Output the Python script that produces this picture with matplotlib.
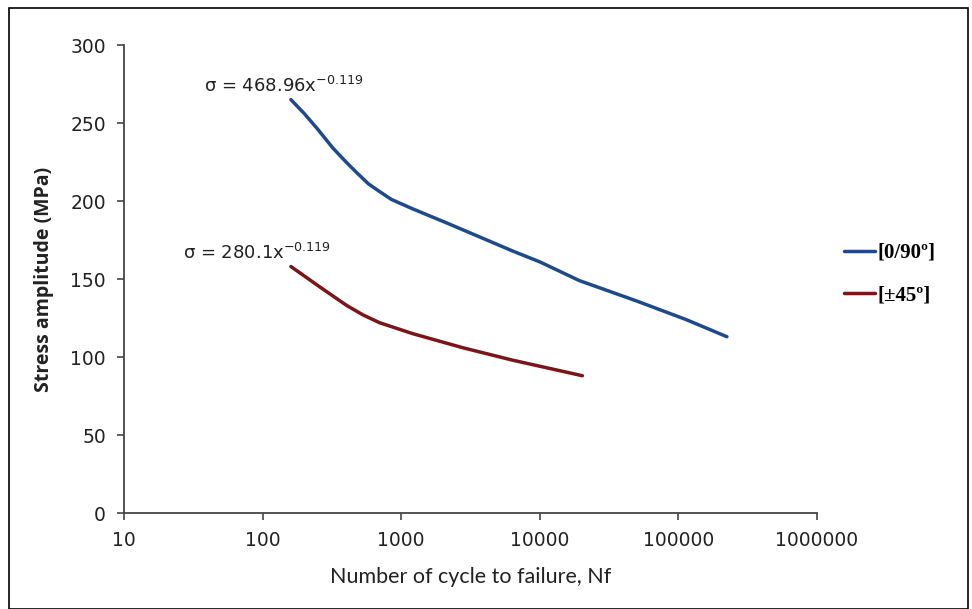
import matplotlib
matplotlib.use("Agg")
import matplotlib.pyplot as plt
from matplotlib.patches import Rectangle

# valores
ciclos_090 = [160, 200, 250, 321, 400, 480, 580, 700, 850, 1208, 2122, 3672, 6350, 10000,
              19280, 49700, 113700, 224000]
tensao_090 = [265, 256, 246, 234, 225, 218, 211, 206, 201, 195, 186, 177, 168, 161,
              149, 136, 124, 113]

ciclos_45 = [160, 258, 405, 530, 698, 1208, 2770, 6350, 20300]
tensao_45 = [158, 145, 133, 127, 122, 115, 106, 98, 88]

xticks = [10, 100, 1000, 10000, 100000, 1000000]
yticks = [0, 50, 100, 150, 200, 250, 300]

fig = plt.figure(figsize=(9.72, 6.09), dpi=100)
fig.patches.append(Rectangle((0.009, 0.0), 0.987, 0.987, transform=fig.transFigure,
                             fill=False, edgecolor="black", linewidth=1.2))

ax = fig.add_axes([0.1276, 0.1576, 0.7129, 0.7685])

ax.plot(ciclos_090, tensao_090, color="#1f4a8a", linewidth=2.5, label="[0/90º]",
        solid_joinstyle="round", solid_capstyle="round")
ax.plot(ciclos_45, tensao_45, color="#7a1518", linewidth=2.5, label="[±45º]",
        solid_joinstyle="round", solid_capstyle="round")

ax.set_xscale("log")
ax.set_xlim(10, 1000000)
ax.set_ylim(0, 300)
ax.set_xticks(xticks, [str(v) for v in xticks], family="DejaVu Sans")
ax.minorticks_off()
ax.set_yticks(yticks, [str(v) for v in yticks], family="DejaVu Sans")

for s in ["top", "right"]:
    ax.spines[s].set_visible(False)
for s in ["left", "bottom"]:
    ax.spines[s].set_color("#444444")
    ax.spines[s].set_linewidth(1.3)
ax.tick_params(direction="out", length=5, width=1.2, color="#444444",
               labelsize=13.5, labelcolor="#222222", pad=8)

ax.set_xlabel("Number of cycle to failure, Nf", family="Lato", fontsize=15.5, labelpad=12, color="#222222")
ax.set_ylabel("Stress amplitude (MPa)", family="Open Sans", fontweight="bold", fontsize=14, labelpad=12, color="#222222")

ax.text(38, 274, "σ = 468.96x$^{\\mathregular{-0.119}}$", fontsize=13, color="#222222",
        family="DejaVu Sans", va="center")
ax.text(26.5, 167, "σ = 280.1x$^{\\mathregular{-0.119}}$", fontsize=13, color="#222222",
        family="DejaVu Sans", va="center")

ax.legend(loc="center left", bbox_to_anchor=(1.012, 0.51), frameon=False,
          prop={"family": "Liberation Serif", "weight": "bold", "size": 15},
          handlelength=1.5, handletextpad=0.1, labelspacing=1.1)

fig.savefig("out.png", dpi=100)
